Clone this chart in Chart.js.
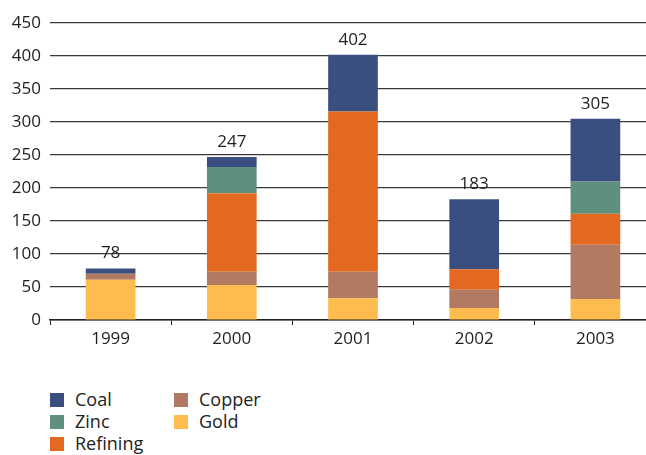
<!DOCTYPE html>
<html>
<head>
<meta charset="utf-8">
<script src="https://cdn.jsdelivr.net/npm/chart.js@4/dist/chart.umd.min.js"></script>
<style>
    body { margin: 0; background: #fff; overflow: hidden; width: 646px; height: 455px; position: relative; }
    #chart { position: absolute; left: 0; top: 0; }
    .legend { position: absolute; left: 50px; top: 388px; font-family: "Open Sans", sans-serif; font-size: 18px; color: #222; }
    .legend .item { position: absolute; white-space: nowrap; line-height: 22px; }
    .legend .box { display: inline-block; width: 14px; height: 14px; vertical-align: -1px; margin-right: 11px; }
</style>
</head>
<body>
<canvas id="chart" width="656" height="360"></canvas>
<div class="legend" id="legend"></div>
<script>
const years = ['1999', '2000', '2001', '2002', '2003'];
const gold = [61, 53, 33, 18, 32];
const copper = [9, 20, 40, 28, 82];
const refining = [0, 119, 243, 31, 47];
const zinc = [0, 40, 0, 0, 49];
const coal = [8, 15, 86, 106, 95];
const yTicks = [0, 50, 100, 150, 200, 250, 300, 350, 400, 450];

const colors = {
    Coal: '#3b4e80',
    Zinc: '#5f907f',
    Refining: '#e46920',
    Copper: '#b07b62',
    Gold: '#fdbc4d'
};

const textColor = '#1e1e1e';
const fontFamily = '"Open Sans", sans-serif';

// bottom to top
const datasets = [
    { label: 'Gold', data: gold },
    { label: 'Copper', data: copper },
    { label: 'Refining', data: refining },
    { label: 'Zinc', data: zinc },
    { label: 'Coal', data: coal }
].map(d => ({
    ...d,
    backgroundColor: colors[d.label],
    borderWidth: 0,
    categoryPercentage: 1,
    barPercentage: 0.41
}));

const totalsPlugin = {
    id: 'totals',
    afterDatasetsDraw(chart) {
        const ctx = chart.ctx;
        const xs = chart.scales.x, ys = chart.scales.y;
        ctx.save();
        ctx.font = '17px ' + fontFamily;
        ctx.fillStyle = textColor;
        ctx.textAlign = 'center';
        ctx.textBaseline = 'middle';
        years.forEach((y, i) => {
            const total = datasets.reduce((s, d) => s + d.data[i], 0);
            ctx.fillText(String(total), xs.getPixelForValue(i), ys.getPixelForValue(total) - 15);
        });
        ctx.restore();
    }
};

new Chart(document.getElementById('chart'), {
    type: 'bar',
    data: { labels: years, datasets: datasets },
    plugins: [totalsPlugin],
    options: {
        responsive: false,
        animation: false,
        layout: { padding: { top: 23, left: 0, right: 0, bottom: 0 } },
        plugins: {
            legend: { display: false },
            tooltip: { enabled: false }
        },
        scales: {
            x: {
                stacked: true,
                offset: true,
                grid: {
                    offset: true,
                    drawOnChartArea: false,
                    tickLength: 5,
                    color: '#222'
                },
                border: { color: '#222', width: 1.5 },
                ticks: {
                    color: textColor,
                    padding: 4,
                    font: { family: fontFamily, size: 17 }
                },
                afterFit: s => { s.height = 40; }
            },
            y: {
                stacked: true,
                min: 0,
                max: 450,
                afterBuildTicks: s => { s.ticks = yTicks.map(v => ({ value: v })); },
                grid: {
                    drawTicks: false,
                    color: '#3a3a3a',
                    lineWidth: 1.2
                },
                border: { display: false },
                ticks: {
                    color: textColor,
                    padding: 9,
                    font: { family: fontFamily, size: 17 }
                },
                afterFit: s => { s.width = 50; }
            }
        }
    }
});

// legend, column-major like the original
const legendLayout = [
    ['Coal', 0, 0], ['Zinc', 0, 1], ['Refining', 0, 2],
    ['Copper', 1, 0], ['Gold', 1, 1]
];
const legend = document.getElementById('legend');
legendLayout.forEach(([name, col, row]) => {
    const item = document.createElement('div');
    item.className = 'item';
    item.style.left = (col * 124) + 'px';
    item.style.top = (row * 22) + 'px';
    item.innerHTML = `<span class="box" style="background:${colors[name]}"></span>${name}`;
    legend.appendChild(item);
});
</script>
</body>
</html>
